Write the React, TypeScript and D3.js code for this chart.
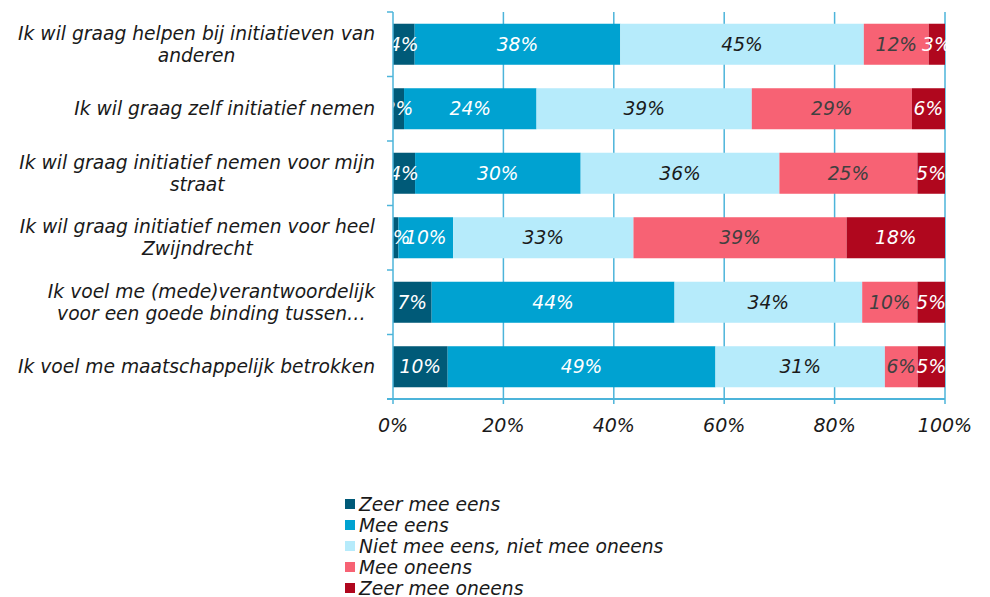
import { useEffect, useRef } from "react";
import * as d3 from "d3";

const categories = [
  "Ik wil graag helpen bij initiatieven van|anderen",
  "Ik wil graag zelf initiatief nemen",
  "Ik wil graag initiatief nemen voor mijn|straat",
  "Ik wil graag initiatief nemen voor heel|Zwijndrecht",
  "Ik voel me (mede)verantwoordelijk|voor een goede binding tussen…",
  "Ik voel me maatschappelijk betrokken",
];

const seriesNames = [
  "Zeer mee eens",
  "Mee eens",
  "Niet mee eens, niet mee oneens",
  "Mee oneens",
  "Zeer mee oneens",
];

const zeerMeeEens = [4, 2, 4, 1, 7, 10];
const meeEens = [38, 24, 30, 10, 44, 49];
const neutraal = [45, 39, 36, 33, 34, 31];
const meeOneens = [12, 29, 25, 39, 10, 6];
const zeerMeeOneens = [3, 6, 5, 18, 5, 5];

const xTicks = [0, 0.2, 0.4, 0.6, 0.8, 1];

const colors = ["#005a78", "#00a2d1", "#b6ebfb", "#f76274", "#b0071e"];
const labelColors = ["#ffffff", "#ffffff", "#1a1a1a", "#404040", "#ffffff"];

export default function App() {
  const svgRef = useRef<SVGSVGElement>(null);

  useEffect(() => {
    const width = 990;
    const height = 597;
    const font = "'DejaVu Sans', Verdana, sans-serif";
    const fs = "18.7px";
    const axisColor = "#4cb4da";

    const svg = d3.select(svgRef.current);
    svg.selectAll("*").remove();
    svg.attr("width", width).attr("height", height).style("display", "block");

    const values = [zeerMeeEens, meeEens, neutraal, meeOneens, zeerMeeOneens];
    const rows = categories.map((c, i) => {
      const row: any = { cat: c };
      seriesNames.forEach((s, j) => (row[s] = values[j][i]));
      return row;
    });

    const stacked = d3
      .stack<any>()
      .keys(seriesNames)
      .offset(d3.stackOffsetExpand)(rows);

    const x = d3.scaleLinear().domain([0, 1]).range([393, 945]);
    const y = d3
      .scaleBand()
      .domain(categories)
      .range([12, 399])
      .paddingInner(0.364)
      .paddingOuter(0.182);

    // grid lines
    svg
      .append("g")
      .selectAll("line")
      .data(xTicks.slice(1))
      .enter()
      .append("line")
      .attr("x1", (d) => x(d))
      .attr("x2", (d) => x(d))
      .attr("y1", 12)
      .attr("y2", 399)
      .attr("stroke", axisColor)
      .attr("stroke-width", 1.5);

    svg
      .append("defs")
      .append("clipPath")
      .attr("id", "plotclip")
      .append("rect")
      .attr("x", 393)
      .attr("y", 0)
      .attr("width", 945 - 393 + 1)
      .attr("height", 400);

    const plot = svg.append("g").attr("clip-path", "url(#plotclip)");

    stacked.forEach((layer, si) => {
      plot
        .append("g")
        .selectAll("rect")
        .data(layer)
        .enter()
        .append("rect")
        .attr("x", (d) => x(d[0]))
        .attr("width", (d) => x(d[1]) - x(d[0]))
        .attr("y", (d) => y(d.data.cat)!)
        .attr("height", y.bandwidth())
        .attr("fill", colors[si]);
    });

    stacked.forEach((layer, si) => {
      plot
        .append("g")
        .selectAll("text")
        .data(layer)
        .enter()
        .append("text")
        .attr("x", (d) => (x(d[0]) + x(d[1])) / 2)
        .attr("y", (d) => y(d.data.cat)! + y.bandwidth() / 2)
        .attr("dy", "0.35em")
        .attr("text-anchor", "middle")
        .style("font-family", font)
        .style("font-style", "italic")
        .style("font-size", fs)
        .attr("fill", labelColors[si])
        .text((d, i) => values[si][i] + "%");
    });

    // y axis
    svg
      .append("line")
      .attr("x1", 393)
      .attr("x2", 393)
      .attr("y1", 12)
      .attr("y2", 399)
      .attr("stroke", axisColor)
      .attr("stroke-width", 1.5);
    const bounds = categories.map((c) => y(c)! - (y.step() - y.bandwidth()) / 2);
    bounds.push(399);
    svg
      .append("g")
      .selectAll("line")
      .data(bounds)
      .enter()
      .append("line")
      .attr("x1", 387)
      .attr("x2", 393)
      .attr("y1", (d) => d)
      .attr("y2", (d) => d)
      .attr("stroke", axisColor)
      .attr("stroke-width", 1.5);

    // x axis
    svg
      .append("line")
      .attr("x1", 387)
      .attr("x2", 945)
      .attr("y1", 399)
      .attr("y2", 399)
      .attr("stroke", axisColor)
      .attr("stroke-width", 2);
    const xt = svg.append("g");
    xt.selectAll("line")
      .data(xTicks)
      .enter()
      .append("line")
      .attr("x1", (d) => x(d))
      .attr("x2", (d) => x(d))
      .attr("y1", 399)
      .attr("y2", 404)
      .attr("stroke", axisColor)
      .attr("stroke-width", 1.5);
    xt.selectAll("text")
      .data(xTicks)
      .enter()
      .append("text")
      .attr("x", (d) => x(d))
      .attr("y", 425)
      .attr("dy", "0.35em")
      .attr("text-anchor", "middle")
      .style("font-family", font)
      .style("font-style", "italic")
      .style("font-size", "19px")
      .attr("fill", "#1a1a1a")
      .text((d) => Math.round(d * 100) + "%");

    // category labels
    categories.forEach((c) => {
      const lines = c.split("|");
      const t = svg
        .append("text")
        .attr("text-anchor", "middle")
        .style("font-family", font)
        .style("font-style", "italic")
        .style("font-size", fs)
        .attr("fill", "#1a1a1a");
      const cy = y(c)! + y.bandwidth() / 2;
      const lh = 22;
      const tspans = lines.map((l, i) =>
        t
          .append("tspan")
          .attr("y", cy + (i - (lines.length - 1) / 2) * lh)
          .attr("dy", "0.35em")
          .text(l)
      );
      const maxW = d3.max(tspans, (ts) => (ts.node() as SVGTSpanElement).getComputedTextLength()) || 0;
      tspans.forEach((ts) => ts.attr("x", 375 - maxW / 2));
    });

    // legend
    const lg = svg
      .append("g")
      .selectAll("g")
      .data(seriesNames)
      .enter()
      .append("g")
      .attr("transform", (d, i) => `translate(345, ${504 + i * 21})`);
    lg.append("rect")
      .attr("x", 0)
      .attr("y", -5)
      .attr("width", 10)
      .attr("height", 10)
      .attr("fill", (d, i) => colors[i]);
    lg.append("text")
      .attr("x", 14)
      .attr("y", 0)
      .attr("dy", "0.35em")
      .style("font-family", font)
      .style("font-style", "italic")
      .style("font-size", fs)
      .attr("fill", "#1a1a1a")
      .text((d) => d);
  }, []);

  return (
    <div style={{ position: "absolute", left: 0, top: 0 }}>
      <svg ref={svgRef}></svg>
    </div>
  );
}
